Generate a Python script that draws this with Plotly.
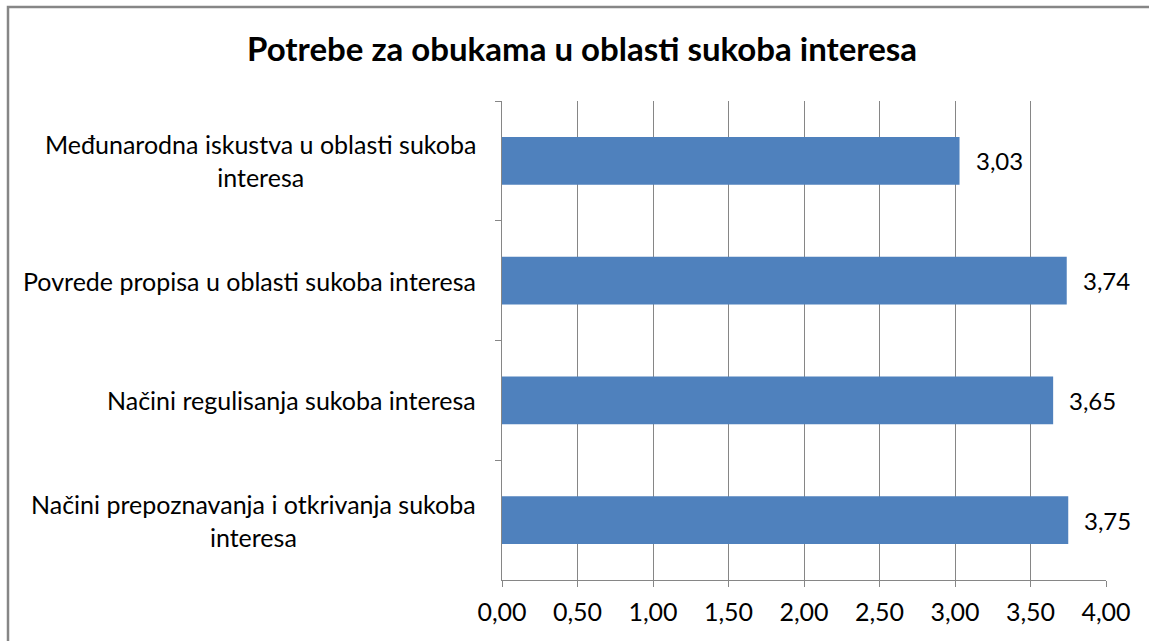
import plotly.graph_objects as go

categories = [
    "Međunarodna iskustva u oblasti sukoba<br>interesa",
    "Povrede propisa u oblasti sukoba interesa",
    "Načini regulisanja sukoba interesa",
    "Načini prepoznavanja i otkrivanja sukoba<br>interesa",
]
values = [3.03, 3.74, 3.65, 3.75]
x_ticks = [0, 0.5, 1, 1.5, 2, 2.5, 3, 3.5, 4]
title = "Potrebe za obukama u oblasti sukoba interesa"

W, H = 1149, 641
L, R, T, B = 502, 1106, 101, 580
FONT = "Lato"
GRAY = "#868686"

fig = go.Figure(go.Bar(
    y=categories, x=values, orientation="h",
    marker=dict(color="#4F81BD", line=dict(width=0)),
    hoverinfo="skip",
))

annotations = []
for c, v in zip(categories, values):
    annotations.append(dict(
        x=v, y=c, xref="x", yref="y", text=f"{v:.2f}".replace(".", ","),
        showarrow=False, xanchor="left", xshift=14,
        font=dict(family=FONT, size=24, color="#000000"),
    ))
    annotations.append(dict(
        x=(478 - L) / (R - L), y=c, xref="paper", yref="y", text=c,
        showarrow=False, xanchor="right", align="center",
        font=dict(family=FONT, size=25, color="#000000"),
    ))

def px_x(p):
    return (p - L) / (R - L)

def px_y(p):
    return (B - p) / (B - T)

fig.update_layout(
    width=W, height=H,
    margin=dict(l=L, r=W - R, t=T, b=H - B, pad=0),
    paper_bgcolor="white", plot_bgcolor="white",
    separators=",.",
    showlegend=False,
    bargap=0.6,
    title=dict(text=f"<b>{title}</b>", x=582 / W, xanchor="center",
               y=1 - 49 / H, yanchor="middle",
               font=dict(family=FONT, size=33, color="#000000")),
    xaxis=dict(range=[0, 4], tickvals=x_ticks, tickformat=".2f",
               showgrid=True, gridcolor=GRAY, gridwidth=1,
               showline=True, linecolor=GRAY, linewidth=1,
               ticks="outside", ticklen=6, tickcolor=GRAY,
               zeroline=False, ticklabelstandoff=4,
               tickfont=dict(family=FONT, size=25, color="#000000")),
    yaxis=dict(autorange="reversed", showticklabels=False,
               showline=True, linecolor=GRAY, linewidth=1,
               ticks="outside", ticklen=6, tickcolor=GRAY,
               tickson="boundaries", showgrid=False, zeroline=False),
    annotations=annotations,
    shapes=[dict(type="rect", xref="paper", yref="paper",
                 x0=px_x(8), x1=px_x(1170), y0=px_y(680), y1=px_y(7),
                 line=dict(color=GRAY, width=2.5), layer="above")],
)

fig.write_html(
    "out.html",
    config={"displayModeBar": False},
    post_script="document.body.style.margin='0';document.body.style.overflow='hidden';",
)
